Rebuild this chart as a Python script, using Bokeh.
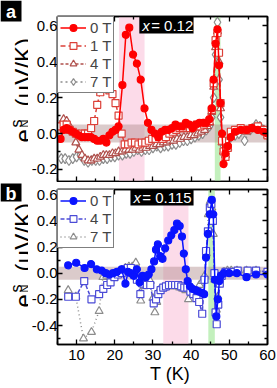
import math
from bokeh.plotting import figure
from bokeh.layouts import column, row
from bokeh.models import (Range1d, LinearAxis, BoxAnnotation, Label, Legend, LegendItem,
                          FixedTicker, PrintfTickFormatter, ColumnDataSource)
from bokeh.embed import file_html
from bokeh.resources import INLINE

FONT = "Liberation Sans"

# ---------------- data ----------------
X_TICKS = [10, 20, 30, 40, 50, 60]
X_MINOR = [5, 15, 25, 35, 45, 55]
YA_TICKS = [-0.2, 0.0, 0.2, 0.4, 0.6]
YA_MINOR = [-0.1, 0.1, 0.3, 0.5]
YB_TICKS = [-0.4, -0.2, 0.0, 0.2, 0.4, 0.6]
YB_MINOR = [-0.5, -0.3, -0.1, 0.1, 0.3, 0.5]

LABELS_A = ["0 T", "1 T", "4 T", "7 T"]
LABELS_B = ["0 T", "4 T", "7 T"]

# panel a (x = 0.12)
T_A0 = [5.8, 6.6, 7.4, 8.2, 9.0, 9.8, 10.6, 11.4, 12.2, 13.0, 13.8, 14.6, 15.4, 16.2, 17.0, 17.8, 18.6, 19.4, 20.2, 21.0,
        22.0, 22.9, 23.8, 24.8, 25.8, 26.8, 27.8, 28.7, 29.6, 30.5, 31.4, 32.3, 33.2, 34.1, 35.0, 35.9, 36.8, 37.7, 38.6, 39.5,
        40.4, 41.3, 42.2, 43.1, 44.0, 44.8, 45.4, 45.9, 46.4, 46.9, 47.3, 47.7, 48.1, 48.5, 49.0, 49.6, 50.4, 51.5, 53.0, 54.5,
        56.0, 57.5, 59.0, 60.0]
E_A0 = [-0.03, 0.02, 0.03, 0.02, 0.01, 0.00, -0.01, -0.02, -0.02, -0.02, -0.02, -0.03, -0.04, -0.04, -0.03, -0.05, -0.01, 0.01, 0.02, 0.04,
        0.27, 0.55, 0.59, 0.44, 0.39, 0.30, 0.14, 0.06, 0.02, 0.00, -0.02, 0.01, 0.02, 0.02, 0.03, 0.05, 0.04, 0.04, 0.06, 0.05,
        0.03, 0.05, 0.06, 0.06, 0.06, 0.08, 0.14, 0.30, 0.50, 0.58, 0.38, 0.17, 0.00, -0.17, -0.11, -0.07, -0.02, 0.01, 0.02, 0.02,
        0.03, 0.02, 0.01, 0.00]

T_A1 = [5.8, 6.6, 7.4, 8.2, 9.0, 9.8, 10.6, 11.4, 12.2, 13.0, 13.8, 14.6, 15.4, 16.2, 17.0, 17.8, 18.6, 19.4, 20.2, 21.0,
        21.8, 22.6, 23.5, 24.4, 25.3, 26.2, 27.1, 28.0, 28.9, 29.8, 30.7, 31.6, 32.5, 33.4, 34.3, 35.2, 36.1, 37.0, 37.9, 38.8,
        39.7, 40.6, 41.5, 42.4, 43.3, 44.1, 44.8, 45.4, 45.9, 46.4, 46.9, 47.3, 47.7, 48.1, 48.5, 49.0, 49.6, 50.4, 51.5, 53.0,
        54.5, 56.0, 57.5, 59.0, 60.0]
E_A1 = [0.04, 0.05, 0.05, 0.02, 0.01, 0.00, -0.01, 0.00, 0.00, 0.00, 0.03, 0.07, 0.16, 0.23, 0.25, 0.25, 0.24, 0.22, 0.17, 0.10,
        0.00, -0.06, -0.06, -0.05, -0.05, -0.06, -0.05, -0.05, -0.04, -0.03, -0.03, -0.02, -0.03, -0.02, 0.00, 0.01, 0.02, 0.03, 0.03, 0.04,
        0.03, 0.04, 0.05, 0.04, 0.05, 0.06, 0.07, 0.13, 0.28, 0.52, 0.56, 0.45, 0.17, -0.04, -0.10, -0.13, -0.08, 0.01, 0.02, 0.03,
        0.02, 0.03, 0.04, 0.02, -0.01]

T_A4 = [5.8, 6.6, 7.4, 8.2, 9.0, 9.8, 10.6, 11.4, 12.2, 13.0, 13.8, 14.6, 15.4, 16.2, 17.0, 17.8, 18.6, 19.4, 20.2, 21.0,
        21.9, 22.8, 23.7, 24.6, 25.5, 26.4, 27.3, 28.2, 29.1, 30.0, 30.9, 31.8, 32.7, 33.6, 34.5, 35.4, 36.3, 37.2, 38.1, 39.0,
        39.9, 40.8, 41.7, 42.6, 43.5, 44.3, 44.9, 45.4, 45.9, 46.4, 46.9, 47.3, 47.7, 48.1, 48.5, 49.0, 49.6, 50.4, 51.5, 53.0,
        54.5, 56.0, 57.5, 59.0, 60.0]
E_A4 = [0.05, 0.08, 0.07, 0.04, 0.01, -0.05, -0.09, -0.12, -0.14, -0.15, -0.15, -0.14, -0.14, -0.13, -0.12, -0.12, -0.12, -0.11, -0.11, -0.10,
        -0.10, -0.09, -0.09, -0.09, -0.08, -0.09, -0.08, -0.08, -0.07, -0.07, -0.06, -0.06, -0.05, -0.05, -0.04, -0.04, -0.03, -0.03, -0.02, -0.02,
        -0.01, -0.01, 0.00, 0.01, 0.02, 0.04, 0.06, 0.12, 0.26, 0.48, 0.57, 0.40, 0.14, -0.05, -0.10, -0.12, -0.08, -0.02, 0.01, 0.02,
        0.01, 0.03, 0.03, 0.02, -0.01]

T_A7 = [6.0, 7.0, 8.0, 9.0, 10.0, 11.0, 12.0, 13.0, 14.0, 15.0, 16.0, 17.0, 18.0, 19.0, 20.0, 21.0, 22.0, 23.0, 24.0, 25.0,
        26.0, 27.0, 28.0, 29.0, 30.0, 31.0, 32.0, 33.0, 34.0, 35.0, 36.0, 37.0, 38.0, 39.0, 40.0, 41.0, 42.0, 43.0, 44.0, 44.8,
        45.4, 45.9, 46.4, 46.9, 47.3, 47.7, 48.1, 48.5, 49.0, 49.6, 50.4, 51.5, 52.5, 54.0, 55.5, 57.0, 58.0, 59.0, 60.0]
E_A7 = [-0.14, -0.14, -0.15, -0.14, -0.13, -0.12, -0.15, -0.16, -0.15, -0.15, -0.15, -0.14, -0.14, -0.13, -0.13, -0.12, -0.12, -0.11, -0.11, -0.10,
        -0.09, -0.10, -0.09, -0.09, -0.08, -0.07, -0.08, -0.07, -0.07, -0.06, -0.06, -0.05, -0.04, -0.04, -0.03, -0.02, -0.01, 0.00, 0.02, 0.04,
        0.09, 0.20, 0.44, 0.62, 0.30, 0.09, -0.03, -0.07, -0.06, -0.04, -0.02, -0.01, 0.00, -0.04, 0.02, 0.05, 0.04, 0.02, -0.01]

# panel b (x = 0.115)
T_B0 = [7.8, 9.9, 12.1, 13.8, 15.3, 16.6, 17.6, 18.6, 19.6, 20.6, 21.8, 22.8, 23.5, 24.2, 25.0, 25.8, 26.5, 27.3, 28.1, 28.9,
        29.6, 30.3, 30.8, 31.3, 31.9, 32.5, 33.2, 34.0, 34.8, 35.6, 36.3, 37.0, 37.6, 38.1, 38.6, 39.1, 39.7, 40.4, 41.2, 42.0,
        42.8, 43.4, 43.9, 44.4, 44.9, 45.4, 45.8, 46.2, 46.6, 47.0, 47.4, 47.8, 48.6, 50.0, 52.0, 54.5, 57.0, 60.0]
E_B0 = [0.06, 0.08, 0.04, 0.07, 0.03, 0.02, 0.00, -0.01, 0.00, 0.01, 0.03, -0.08, 0.01, 0.00, -0.02, 0.03, -0.07, -0.02, -0.03, -0.01,
        0.03, 0.09, 0.18, 0.22, 0.13, 0.11, 0.19, 0.25, 0.29, 0.33, 0.38, 0.36, 0.28, 0.15, 0.03, -0.06, -0.10, -0.12, -0.13, -0.14,
        -0.15, -0.16, 0.12, 0.30, 0.45, 0.56, 0.45, -0.05, -0.33, -0.20, -0.06, -0.02, 0.00, 0.00, 0.00, -0.03, -0.01, -0.01]

T_B4 = [7.8, 9.8, 12.0, 13.9, 15.9, 17.0, 18.0, 18.9, 19.9, 20.8, 21.8, 22.6, 23.4, 24.2, 25.0, 25.8, 26.7, 27.5, 28.4, 29.3,
        30.2, 30.8, 31.4, 32.0, 32.7, 33.4, 34.2, 35.0, 35.8, 36.6, 37.4, 38.2, 39.0, 39.8, 40.6, 41.4, 42.1, 42.9, 43.5, 43.9,
        44.4, 44.9, 45.3, 45.7, 46.1, 46.4, 46.7, 47.1, 47.5, 48.0, 49.0, 50.5, 52.2, 54.8, 57.0, 60.0]
E_B4 = [-0.18, -0.18, -0.06, -0.20, -0.16, -0.12, -0.09, -0.07, -0.03, -0.01, 0.00, 0.03, 0.04, 0.04, -0.01, -0.05, -0.16, -0.08, -0.09, -0.09,
        -0.23, -0.20, -0.16, -0.13, -0.11, -0.10, -0.09, -0.09, -0.09, -0.09, -0.10, -0.11, -0.11, -0.14, -0.16, -0.19, -0.22, -0.31, -0.05, 0.17,
        0.32, 0.50, 0.53, 0.40, 0.00, -0.30, -0.39, -0.24, -0.08, -0.02, 0.01, 0.01, 0.02, 0.02, 0.02, 0.01]

T_B7 = [7.8, 9.8, 11.8, 13.9, 15.9, 16.9, 17.9, 19.0, 20.0, 21.0, 22.0, 22.8, 23.7, 24.6, 25.5, 26.3, 26.8, 27.6, 28.5, 29.3,
        30.0, 30.5, 31.0, 31.6, 32.2, 33.0, 33.8, 34.6, 35.4, 36.2, 37.0, 37.8, 38.6, 39.3, 40.0, 40.8, 41.5, 42.2, 42.9, 43.5,
        44.0, 44.5, 45.0, 45.4, 45.8, 46.2, 46.6, 47.0, 47.4, 47.9, 48.6, 49.5, 50.5, 52.0, 54.5, 57.0, 60.0]
E_B7 = [-0.13, -0.18, -0.50, -0.45, -0.29, -0.03, -0.02, -0.01, -0.01, 0.00, 0.01, 0.04, 0.05, 0.05, 0.08, -0.05, -0.21, -0.10, -0.07, -0.06,
        -0.19, -0.30, -0.22, -0.13, -0.12, -0.11, -0.10, -0.10, -0.10, -0.10, -0.11, -0.12, -0.13, -0.20, -0.12, -0.14, -0.13, -0.09, -0.06, -0.02,
        0.15, 0.45, 0.55, 0.50, 0.30, -0.05, -0.28, -0.18, -0.08, -0.02, 0.01, 0.02, 0.02, 0.02, 0.02, 0.02, 0.01]

# shaded regions (T in K, e in uV/K)
PINK_A = (21.1, 27.8)
GREEN_A = (46.2, 47.7)
PINK_B = (32.7, 39.3)
GREEN_B = (44.5, 46.2)
NOISE = (-0.05, 0.05)

# ---------------- geometry (page pixels) ----------------
STRIP_W = 28
X0, X1 = 5, 60
FR_L, FR_R = 54, 267
YA0, YA1 = -0.267, 0.652
FA_T, FA_B = 16, 181
YB0, YB1 = -0.545, 0.64
FB_T, FB_B = 189, 344
HA = 182
HB = 388 - HA


def xt(px):
    return X0 + (px - FR_L) * (X1 - X0) / (FR_R - FR_L)


def ya(py):
    return YA1 - (py - FA_T) * (YA1 - YA0) / (FA_B - FA_T)


def yb(py):
    return YB1 - (py - FB_T) * (YB1 - YB0) / (FB_B - FB_T)


def style_axis(ax, labels):
    ax.axis_line_color = "black"
    ax.axis_line_width = 1.5
    ax.major_tick_in = 5
    ax.major_tick_out = 0
    ax.minor_tick_in = 3
    ax.minor_tick_out = 0
    ax.major_tick_line_width = 1.3
    ax.minor_tick_line_width = 1.3
    ax.major_tick_line_color = "black"
    ax.minor_tick_line_color = "black"
    ax.major_label_text_font = FONT
    if labels:
        ax.major_label_text_color = "black"
        ax.major_label_text_font_size = "15px"
    else:
        ax.major_label_text_color = None
        ax.major_label_text_font_size = "0px"
        ax.major_label_standoff = 0


def make_panel(height, btop, bbot, y0, y1, yticks, yminor, xlabels):
    p = figure(width=277 - STRIP_W, height=height, x_range=Range1d(X0, X1), y_range=Range1d(y0, y1),
               output_backend="svg", toolbar_location=None,
               min_border_left=FR_L - STRIP_W, min_border_right=277 - FR_R,
               min_border_top=btop, min_border_bottom=bbot)
    p.grid.visible = False
    p.outline_line_color = "black"
    p.outline_line_width = 1.5
    p.background_fill_color = "white"
    p.border_fill_color = "white"
    xb = p.xaxis[0]
    xb.ticker = FixedTicker(ticks=X_TICKS, minor_ticks=X_MINOR)
    style_axis(xb, xlabels)
    if xlabels:
        xb.major_label_standoff = 5
        xb.axis_label = "\u00a0\u00a0\u00a0T (K)"
        xb.axis_label_text_font = FONT
        xb.axis_label_text_font_size = "18px"
        xb.axis_label_text_font_style = "normal"
        xb.axis_label_text_color = "black"
        xb.axis_label_standoff = 1
    yl = p.yaxis[0]
    yl.ticker = FixedTicker(ticks=yticks, minor_ticks=yminor)
    yl.formatter = PrintfTickFormatter(format="%.1f")
    style_axis(yl, True)
    yl.major_label_standoff = 0
    top = LinearAxis(ticker=FixedTicker(ticks=X_TICKS, minor_ticks=X_MINOR))
    style_axis(top, False)
    p.add_layout(top, "above")
    right = LinearAxis(ticker=FixedTicker(ticks=yticks, minor_ticks=yminor))
    style_axis(right, False)
    p.add_layout(right, "right")
    return p


def make_strip(height):
    s = figure(width=STRIP_W, height=height, x_range=Range1d(0, STRIP_W), y_range=Range1d(height, 0),
               output_backend="svg", toolbar_location=None, min_border=0,
               x_axis_location=None, y_axis_location=None)
    s.grid.visible = False
    s.outline_line_color = None
    s.background_fill_color = "white"
    s.border_fill_color = "white"
    return s


def bands(p, pink, green):
    p.add_layout(BoxAnnotation(left=pink[0], right=pink[1], fill_color="#fcdbe9", fill_alpha=1,
                               line_color=None, level="underlay"))
    p.add_layout(BoxAnnotation(left=green[0], right=green[1], fill_color="#c3f0bd", fill_alpha=1,
                               line_color=None, level="underlay"))
    p.add_layout(BoxAnnotation(bottom=NOISE[0], top=NOISE[1], fill_color="#b08c8c", fill_alpha=0.45,
                               line_color=None, level="underlay"))


def series(p, T, E, color, marker, size, fill, dash):
    assert len(T) == len(E)
    src = ColumnDataSource(dict(x=T, y=E))
    ln = p.line("x", "y", source=src, line_color=color, line_width=1.5, line_dash=dash)
    sc = p.scatter("x", "y", source=src, marker=marker, size=size, line_color=color,
                   fill_color=fill, line_width=1.2)
    return [ln, sc]


def legend(p, items):
    lg = Legend(items=[LegendItem(label=l, renderers=r) for l, r in items], location="top_left",
                margin=0, padding=2, spacing=1, glyph_width=26, glyph_height=17, label_height=17,
                label_standoff=4, label_text_font=FONT, label_text_font_size="15px",
                border_line_color="black", border_line_width=1.5,
                background_fill_color="white", background_fill_alpha=1)
    p.add_layout(lg)


def ylabel(s, e_start):
    # strip coordinates are page pixels (y measured from the strip's top)
    parts = [("e", 22.5, e_start, "24px"),
             ("s", 15.5, e_start - 15, "16px"),
             ("N", 24.5, e_start - 15, "11px"),
             ("(\u00b5V/K)", 22.5, e_start - 36, "24px")]
    for text, px, py, fs in parts:
        s.add_layout(Label(x=px, y=py, text=text, angle=math.pi / 2,
                           text_align="left", text_baseline="alphabetic",
                           text_font=FONT, text_font_size=fs, text_color="black"))


def panel_letter(s, letter, top, bottom):
    s.add_layout(BoxAnnotation(left=0, right=21, top=top, bottom=bottom, fill_color="black",
                               fill_alpha=1, line_color=None))
    s.add_layout(Label(x=10.5, y=(top + bottom) / 2 + 1, text=letter, text_align="center",
                       text_baseline="middle", text_font=FONT, text_font_style="bold",
                       text_font_size="18px", text_color="white"))


def x_tag(p, yconv, left, right, top_py, bot_py, rest):
    p.add_layout(BoxAnnotation(left=xt(left), right=xt(right), bottom=yconv(bot_py),
                               fill_color="black", fill_alpha=1, line_color=None))
    cy = yconv((top_py + bot_py) / 2)
    p.add_layout(Label(x=xt(left + 3), y=cy, text="x", text_align="left", text_baseline="middle",
                       text_font=FONT, text_font_style="italic", text_font_size="15px", text_color="white"))
    p.add_layout(Label(x=xt(left + 12), y=cy, text=rest, text_align="left", text_baseline="middle",
                       text_font=FONT, text_font_size="15px", text_color="white"))


# ---------------- panel a ----------------
pa = make_panel(HA, FA_T, HA - FA_B, YA0, YA1, YA_TICKS, YA_MINOR, False)
bands(pa, PINK_A, GREEN_A)
ra7 = series(pa, T_A7, E_A7, "#8c8c8c", "diamond", 10, "white", "2 3")
ra4 = series(pa, T_A4, E_A4, "#b0504c", "triangle", 8, "white", "3 2")
ra1 = series(pa, T_A1, E_A1, "#dc4038", "square", 7, "white", "5 3")
ra0 = series(pa, T_A0, E_A0, "#ff0000", "circle", 7, "#ff0000", "solid")
legend(pa, list(zip(LABELS_A, [ra0, ra1, ra4, ra7])))
x_tag(pa, ya, 137, 192, FA_T, 33, "= 0.12")

sa = make_strip(HA)
ylabel(sa, 142)
panel_letter(sa, "a", 0, 21)

# ---------------- panel b ----------------
pb = make_panel(HB, FB_T - HA, 388 - FB_B, YB0, YB1, YB_TICKS, YB_MINOR, True)
bands(pb, PINK_B, GREEN_B)
rb7 = series(pb, T_B7, E_B7, "#8c8c8c", "triangle", 8, "white", "1 3")
rb4 = series(pb, T_B4, E_B4, "#4b4bd6", "square", 7, "white", "4 2")
rb0 = series(pb, T_B0, E_B0, "#0a14ff", "circle", 7, "#0a14ff", "solid")
legend(pb, list(zip(LABELS_B, [rb0, rb4, rb7])))
x_tag(pb, yb, 128, 192, FB_T, 205, "= 0.115")

sb = make_strip(HB)
ylabel(sb, 307 - HA)
panel_letter(sb, "b", 183 - HA, 201 - HA)

root = row(column(sa, sb, spacing=0), column(pa, pb, spacing=0), spacing=0)

open("out.html", "w").write(file_html(root, INLINE))
